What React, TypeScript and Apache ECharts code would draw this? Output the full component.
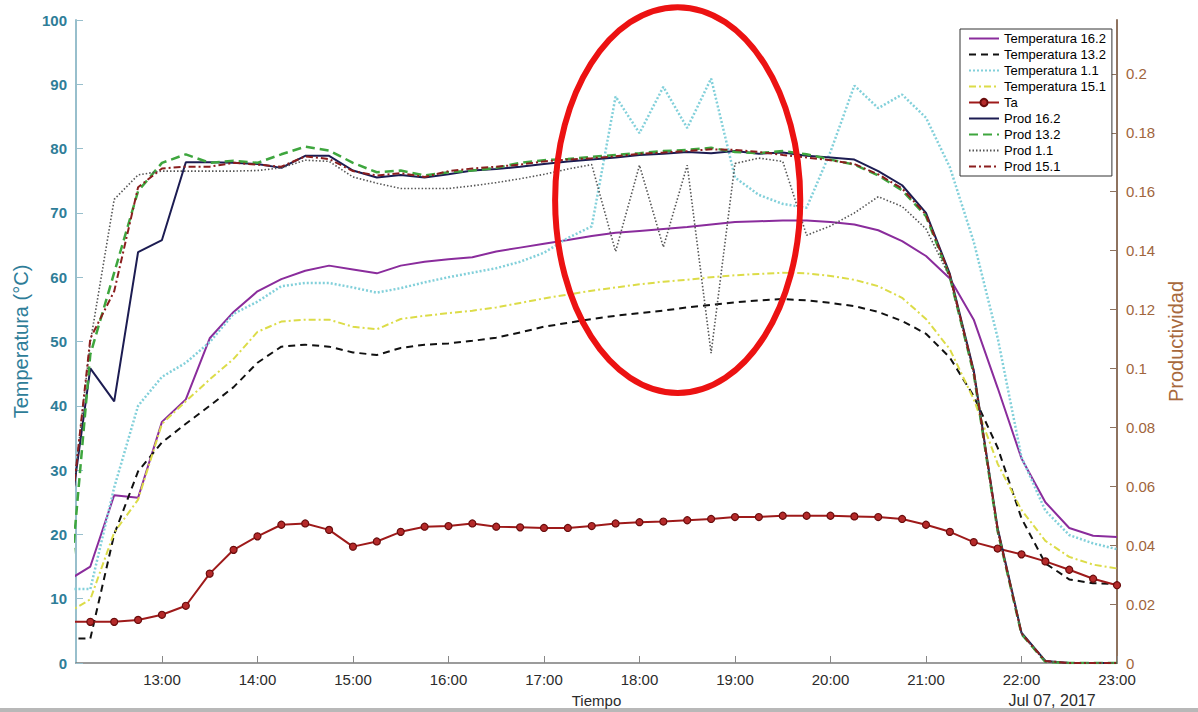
import React, { useEffect, useRef } from "react";
import * as echarts from "echarts";

const times = [
  "12:00", "12:15", "12:30", "12:45",
  "13:00", "13:15", "13:30", "13:45",
  "14:00", "14:15", "14:30", "14:45",
  "15:00", "15:15", "15:30", "15:45",
  "16:00", "16:15", "16:30", "16:45",
  "17:00", "17:15", "17:30", "17:45",
  "18:00", "18:15", "18:30", "18:45",
  "19:00", "19:15", "19:30", "19:45",
  "20:00", "20:15", "20:30", "20:45",
  "21:00", "21:15", "21:30", "21:45",
  "22:00", "22:15", "22:30", "22:45",
  "23:00",
];

const temp162 = [
  12.7, 15.0, 26.1, 25.7, 37.5, 41.0, 50.5, 54.6, 57.8, 59.7, 61.0, 61.8,
  61.2, 60.6, 61.8, 62.4, 62.8, 63.1, 64.0, 64.6, 65.2, 65.8, 66.4, 66.9,
  67.2, 67.5, 67.8, 68.2, 68.6, 68.7, 68.8, 68.8, 68.6, 68.2, 67.3, 65.6,
  63.3, 59.8, 53.4, 42.8, 31.8, 25.0, 21.0, 19.8, 19.6,
];
const temp132 = [
  3.8, 3.8, 20.0, 29.8, 34.3, 37.2, 40.0, 42.9, 46.7, 49.2, 49.5, 49.2,
  48.3, 47.9, 49.0, 49.5, 49.7, 50.1, 50.6, 51.4, 52.3, 52.9, 53.5, 54.0,
  54.4, 54.8, 55.3, 55.7, 56.1, 56.4, 56.6, 56.4, 56.0, 55.5, 54.6, 53.2,
  51.2, 47.5, 41.5, 33.5, 22.5, 15.5, 13.0, 12.4, 12.3,
];
const temp11 = [
  11.5, 11.5, 27.3, 40.0, 44.5, 46.7, 49.9, 54.3, 56.2, 58.6, 59.1, 59.1,
  58.4, 57.6, 58.3, 59.2, 60.0, 60.7, 61.4, 62.4, 63.8, 66.1, 67.9, 88.1,
  82.4, 89.6, 83.2, 90.9, 75.5, 72.8, 71.4, 70.8, 79.5, 89.8, 86.3, 88.4,
  84.8, 77.1, 65.5, 50.6, 32.0, 23.7, 19.9, 18.6, 17.7,
];
const temp151 = [
  7.7, 9.9, 20.3, 25.4, 37.2, 40.7, 44.1, 47.3, 51.5, 53.1, 53.4, 53.4,
  52.3, 51.9, 53.5, 54.0, 54.4, 54.8, 55.3, 56.0, 56.7, 57.3, 57.9, 58.4,
  58.9, 59.3, 59.6, 60.0, 60.3, 60.5, 60.7, 60.6, 60.2, 59.6, 58.6, 56.8,
  53.5, 48.8, 41.0, 31.0, 23.8, 19.0, 16.5, 15.3, 14.7,
];
const ta = [
  6.4, 6.4, 6.4, 6.7, 7.5, 8.9, 13.9, 17.6, 19.7, 21.5, 21.7, 20.7,
  18.1, 18.9, 20.4, 21.2, 21.3, 21.7, 21.2, 21.1, 21.0, 21.0, 21.3, 21.7,
  21.9, 22.0, 22.2, 22.4, 22.7, 22.7, 22.9, 22.9, 22.9, 22.8, 22.7, 22.4,
  21.5, 20.4, 18.8, 17.8, 16.9, 15.8, 14.5, 13.1, 12.1,
];
const prod162 = [
  0.041, 0.1, 0.0888, 0.1395, 0.1436, 0.17, 0.17, 0.1698, 0.1694, 0.1681, 0.1722, 0.1722,
  0.1672, 0.1648, 0.1657, 0.1648, 0.1659, 0.1672, 0.1677, 0.1685, 0.1694, 0.1703, 0.1709, 0.1716,
  0.1725, 0.1729, 0.1735, 0.1731, 0.1738, 0.1729, 0.1733, 0.1722, 0.1716, 0.1709, 0.167, 0.1622,
  0.1528, 0.1321, 0.0993, 0.0458, 0.0103, 0.0007, 0, 0, 0,
];
const prod132 = [
  0.0124, 0.1048, 0.1325, 0.1602, 0.1698, 0.1727, 0.1698, 0.1705, 0.1698, 0.1727, 0.1753, 0.174,
  0.1698, 0.1666, 0.1672, 0.1655, 0.1666, 0.1672, 0.1681, 0.1698, 0.1707, 0.1711, 0.1718, 0.1725,
  0.1731, 0.1738, 0.1742, 0.1749, 0.1735, 0.1731, 0.1738, 0.1727, 0.1709, 0.1692, 0.1655, 0.1605,
  0.1517, 0.131, 0.0982, 0.0448, 0.0098, 0.0004, 0, 0, 0,
];
const prod11 = [
  0.0373, 0.1089, 0.1574, 0.1657, 0.167, 0.167, 0.167, 0.167, 0.1672, 0.1681, 0.1707, 0.1703,
  0.165, 0.1629, 0.1611, 0.1611, 0.1611, 0.162, 0.1631, 0.1644, 0.1659, 0.1677, 0.1692, 0.1397,
  0.169, 0.1412, 0.169, 0.1052, 0.1696, 0.1714, 0.1703, 0.1452, 0.1484, 0.1528, 0.1583, 0.155,
  0.1474, 0.131, 0.0982, 0.0448, 0.0098, 0.0004, 0, 0, 0,
];
const prod151 = [
  0.0365, 0.1102, 0.1262, 0.1615, 0.1679, 0.1685, 0.1685, 0.1698, 0.1692, 0.1685, 0.172, 0.1711,
  0.167, 0.1655, 0.1663, 0.165, 0.167, 0.1679, 0.1685, 0.1692, 0.1703, 0.1709, 0.1714, 0.172,
  0.1729, 0.1733, 0.1738, 0.1744, 0.1742, 0.1735, 0.1725, 0.1716, 0.1707, 0.1694, 0.1659, 0.1611,
  0.1522, 0.1316, 0.0989, 0.0454, 0.01, 0.0007, 0, 0, 0,
];

const axisStart = "12:06";
const axisEnd = "23:00";
const tempTicks = { min: 0, max: 100, interval: 10 };
const prodTicks = { min: 0, max: 0.2183, interval: 0.02 };
const dateLabel = "Jul 07, 2017";
// annotation ellipse, in data units (center and left/top extents)
const ellipseCenter: [string, number] = ["18:24", 72];
const ellipseLeftTop: [string, number] = ["17:07", 102];

const FONT = "'Liberation Sans', Arial, Helvetica, sans-serif";

function ts(hhmm: string) {
  const [h, m] = hhmm.split(":").map(Number);
  return new Date(2017, 6, 7, h, m).getTime();
}
const pad = (n: number) => (n < 10 ? "0" + n : "" + n);

export default function App() {
  const ref = useRef<HTMLDivElement>(null);
  useEffect(() => {
    document.body.style.margin = "0";
    const el = ref.current!;
    const chart = echarts.init(el, null, { renderer: "svg" });
    const mk = (vals: number[]) => times.map((t, i) => [ts(t), vals[i]]);
    const line = (
      name: string,
      vals: number[],
      color: string,
      width: number,
      type: any,
      yAxisIndex: number,
      extra: any = {}
    ) => ({
      name,
      type: "line",
      data: mk(vals),
      yAxisIndex,
      symbol: "none",
      showSymbol: false,
      clip: true,
      silent: true,
      itemStyle: { color },
      lineStyle: { color, width, type },
      ...extra,
    });

    const series = [
      line("Temperatura 16.2", temp162, "#8a2c9c", 2, "solid", 0),
      line("Temperatura 13.2", temp132, "#111111", 2, [7, 5], 0),
      line("Temperatura 1.1", temp11, "#82d0da", 2.5, [2, 2], 0),
      line("Temperatura 15.1", temp151, "#dcdc48", 2, [7, 3, 2, 3], 0),
      line("Ta", ta, "#9e1a1a", 2, "solid", 0, {
        symbol: "circle",
        showSymbol: true,
        symbolSize: 7,
        itemStyle: { color: "#b52a2a", borderColor: "#6a0c0c", borderWidth: 1.2 },
      }),
      line("Prod 16.2", prod162, "#1c1c52", 2, "solid", 1),
      line("Prod 13.2", prod132, "#3ea63e", 2.5, [9, 5], 1),
      line("Prod 1.1", prod11, "#555555", 1.6, [1.5, 2], 1),
      line("Prod 15.1", prod151, "#8b1e1e", 2, [7, 3, 2, 3], 1),
    ];

    const option: any = {
      animation: false,
      backgroundColor: "#ffffff",
      textStyle: { fontFamily: FONT },
      grid: { left: 76, right: 81, top: 20, bottom: 49, outerBoundsMode: "none" },
      legend: {
        orient: "vertical",
        left: 960,
        top: 29,
        itemWidth: 30,
        itemHeight: 9,
        itemGap: 3,
        padding: [3, 6, 3, 8],
        backgroundColor: "#ffffff",
        borderColor: "#333333",
        borderWidth: 1,
        textStyle: { fontSize: 13, lineHeight: 13, color: "#000000", fontFamily: FONT },
        data: series.map((s) =>
          s.name === "Ta" ? { name: s.name } : { name: s.name, itemStyle: { opacity: 0 } }
        ),
      },
      xAxis: {
        type: "time",
        min: ts(axisStart),
        max: ts(axisEnd),
        minInterval: 3600000,
        maxInterval: 3600000,
        splitLine: { show: false },
        axisLine: { lineStyle: { color: "#7a7a7a", width: 1.5 } },
        axisTick: { show: true, inside: true, length: 7, lineStyle: { color: "#888888" } },
        axisLabel: {
          fontSize: 15,
          color: "#2b2b2b",
          margin: 9,
          hideOverlap: false,
          showMaxLabel: true,
          formatter: (v: number) => {
            const d = new Date(v);
            if (d.getMinutes() !== 0) return "";
            return pad(d.getHours()) + ":" + pad(d.getMinutes());
          },
        },
        name: "Tiempo",
        nameLocation: "middle",
        nameGap: 30,
        nameTextStyle: { fontSize: 15, color: "#2b2b2b" },
      },
      yAxis: [
        {
          type: "value",
          position: "left",
          ...tempTicks,
          splitLine: { show: false },
          axisLine: { show: true, lineStyle: { color: "#98bfcc", width: 2 } },
          axisTick: { show: true, inside: true, length: 7, lineStyle: { color: "#98bfcc" } },
          axisLabel: { color: "#2e7d98", fontSize: 15, fontWeight: "bold", margin: 9 },
          name: "Temperatura (°C)",
          nameLocation: "middle",
          nameRotate: 90,
          nameGap: 36,
          nameTextStyle: { color: "#2e7d98", fontSize: 20 },
        },
        {
          type: "value",
          position: "right",
          ...prodTicks,
          splitLine: { show: false },
          axisLine: { show: true, lineStyle: { color: "#8e735f", width: 2 } },
          axisTick: { show: true, inside: true, length: 7, lineStyle: { color: "#8e735f" } },
          axisLabel: {
            color: "#a0653c",
            fontSize: 15,
            margin: 9,
            showMaxLabel: false,
            formatter: (v: number) => String(parseFloat(v.toFixed(2))),
          },
          name: "Productividad",
          nameLocation: "middle",
          nameRotate: 90,
          nameGap: 38,
          nameTextStyle: { color: "#a8693c", fontSize: 20 },
        },
      ],
      series,
    };
    chart.setOption(option);

    const c = chart.convertToPixel({ xAxisIndex: 0, yAxisIndex: 0 } as any, [
      ts(ellipseCenter[0]),
      ellipseCenter[1],
    ]) as number[];
    const e = chart.convertToPixel({ xAxisIndex: 0, yAxisIndex: 0 } as any, [
      ts(ellipseLeftTop[0]),
      ellipseLeftTop[1],
    ]) as number[];
    chart.setOption({
      graphic: [
        {
          type: "ellipse",
          z: 100,
          silent: true,
          shape: { cx: c[0], cy: c[1], rx: Math.abs(c[0] - e[0]), ry: Math.abs(c[1] - e[1]) },
          style: { fill: "none", stroke: "#ec1212", lineWidth: 6 },
        },
        {
          type: "text",
          x: 1052,
          y: 700,
          silent: true,
          style: {
            text: dateLabel,
            fill: "#2b2b2b",
            font: "16px " + FONT,
            align: "center",
            verticalAlign: "middle",
          },
        },
        {
          type: "rect",
          silent: true,
          shape: { x: 0, y: 708, width: 1198, height: 4 },
          style: { fill: "#b8b8b8" },
        },
      ],
    });
    return () => chart.dispose();
  }, []);
  return (
    <div
      ref={ref}
      style={{ position: "fixed", left: 0, top: 0, width: 1198, height: 712, background: "#fff" }}
    />
  );
}
